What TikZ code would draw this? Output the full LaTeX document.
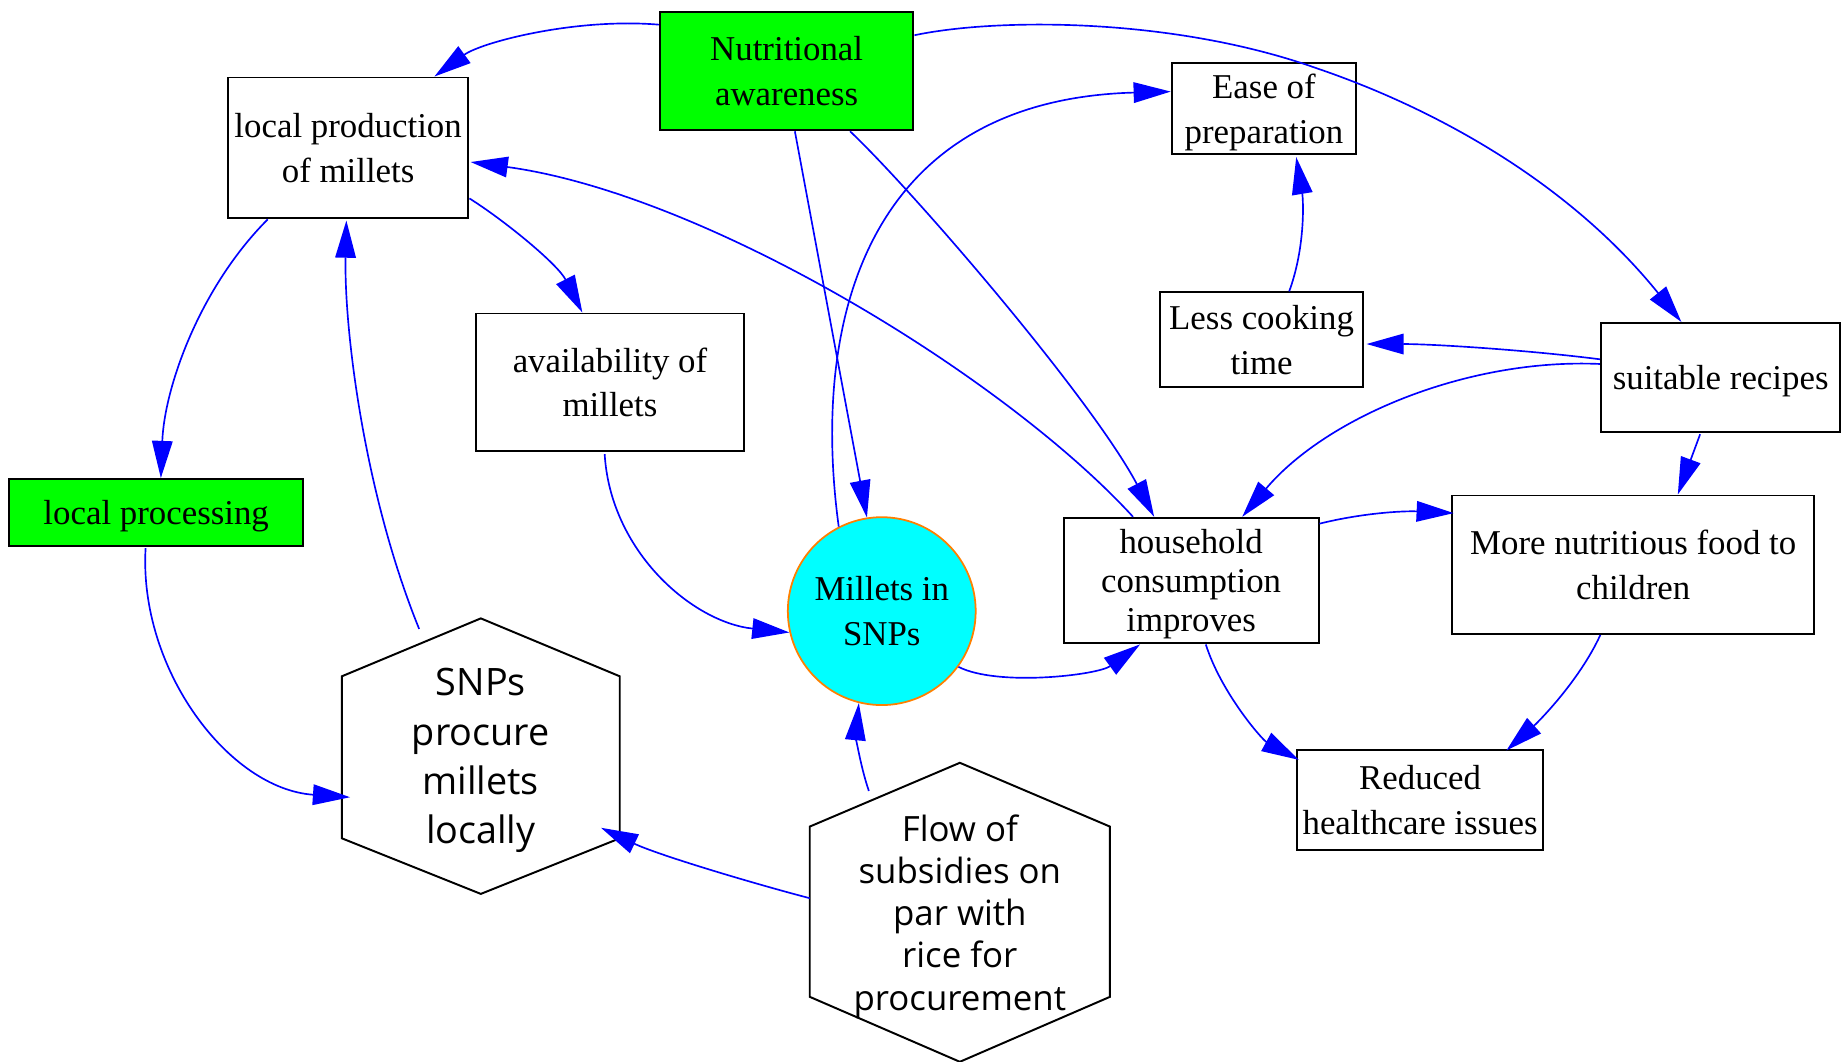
\documentclass[tikz,border=0pt]{standalone}
\usepackage{fontspec}
\setmainfont{Liberation Serif}
\newfontfamily\hexfont{Open Sans}
\usetikzlibrary{arrows.meta,calc}
\definecolor{edgeblue}{RGB}{0,0,255}
\definecolor{boxgreen}{RGB}{0,255,0}
\definecolor{circcyan}{RGB}{0,255,255}
\definecolor{circorange}{RGB}{255,128,0}
\begin{document}
\begin{tikzpicture}[x=0.6pt,y=-0.6pt,
  box/.style={draw=black, line width=1pt, rectangle, inner sep=0pt, align=center, text depth=-1.8pt, font=\fontsize{17.8}{22.8}\selectfont},
  greenbox/.style={box, fill=boxgreen},
  hexnode/.style={rectangle, inner sep=0pt, align=center},
  hexline/.style={draw=black, line width=1pt},
  conn/.style={draw=edgeblue, line width=0.85pt, -{Triangle[length=19pt,width=10.5pt]}},
]
\useasboundingbox (0,0) rectangle (1568,904);

% nodes
\node[greenbox, minimum width=129.6pt, minimum height=60.6pt] (na) at (670,60.5) {Nutritional\\awareness};
\node[box, minimum width=123pt, minimum height=72pt] (lp) at (296.5,126) {local production\\of millets};
\node[box, minimum width=94.2pt, minimum height=46.2pt] (ep) at (1076.5,92.5) {Ease of\\preparation};
\node[box, minimum width=103.8pt, minimum height=48.6pt] (lc) at (1074.5,289.5) {Less cooking\\time};
\node[box, minimum width=122.4pt, minimum height=55.8pt] (sr) at (1465.5,321.5) {suitable recipes};
\node[box, minimum width=137.4pt, minimum height=70.2pt] (av) at (519.5,325.5) {availability of\\millets};
\node[greenbox, minimum width=150pt, minimum height=34.2pt] (lpr) at (133,436.5) {local processing};
\node[circle, draw=circorange, fill=circcyan, line width=0.9pt, minimum size=96pt, inner sep=0pt, align=center, text depth=-1.8pt, font=\fontsize{17.8}{22.8}\selectfont] (ms) at (751,520.5) {Millets in\\SNPs};
\node[box, minimum width=130.2pt, minimum height=64.2pt, font=\fontsize{17.8}{20}\selectfont] (hc) at (1014.5,494.5) {household\\consumption\\improves};
\node[box, minimum width=184.8pt, minimum height=70.8pt] (mn) at (1391,481) {More nutritious food to\\children};
\node[box, minimum width=125.4pt, minimum height=51pt] (rh) at (1209.5,681.5) {Reduced\\healthcare issues};
\node[hexnode, minimum width=141.6pt, minimum height=140.4pt, text depth=0pt, font=\hexfont\fontsize{19.3}{25.2}\selectfont] (hexl) at (409.5,644) {SNPs\\procure\\millets\\locally};
\node[hexnode, minimum width=153pt, minimum height=152.4pt, text depth=-1.7pt, font=\hexfont\fontsize{17.8}{21.6}\selectfont] (hexr) at (817.5,777) {Flow of\\subsidies on\\par with\\rice for\\procurement};

% hexagon outlines
\draw[hexline] (hexl.north) -- ($(hexl.east)+(0,-68)$) -- ($(hexl.east)+(0,70)$) -- (hexl.south) -- ($(hexl.west)+(0,70)$) -- ($(hexl.west)+(0,-68)$) -- cycle;
\draw[hexline] (hexr.north) -- ($(hexr.east)+(0,-73)$) -- ($(hexr.east)+(0,72)$) -- (hexr.south) -- ($(hexr.west)+(0,72)$) -- ($(hexr.west)+(0,-73)$) -- cycle;

% connectors
\draw[conn] ($(na.west)+(0,-39.5)$) .. controls (490,15) and (410,36) .. ($(lp.north)+(73.5,0)$);
\draw[conn] ($(na.east)+(0,-30.5)$) .. controls (850,15) and (1000,15) .. (1121,58) .. controls (1230,95) and (1340,160) .. ($(sr.north)+(-33.5,0)$);
\draw[conn] ($(na.south)+(7,0)$) -- (ms.99);
\draw[conn] ($(na.south)+(54,0)$) .. controls (780,165) and (930,340) .. ($(hc.north)+(-31.5,0)$);
\draw[conn] (ms.117) .. controls (690,270) and (740,85) .. ($(ep.west)+(0,-14.5)$);
\draw[conn] ($(hc.north)+(-49.5,0)$) .. controls (855,320) and (600,165) .. ($(lp.east)+(1,12)$);
\draw[conn] ($(lp.east)+(0,43)$) .. controls (430,188) and (475,225) .. ($(av.north)+(-23.5,0)$);
\draw[conn] ($(lp.south)+(-68.5,0)$) .. controls (170,245) and (140,330) .. ($(lpr.north)+(4,0)$);
\draw[conn] ($(hexl.north)+(-52.5,9)$) .. controls (310,420) and (293,280) .. ($(lp.south)+(-1.5,1)$);
\draw[conn] ($(lpr.south)+(-9,1)$) .. controls (118,570) and (195,672) .. ($(hexl.west)+(7,35)$);
\draw[conn] ($(av.south)+(-4.5,2)$) .. controls (520,470) and (590,530) .. (ms.193);
\draw[conn] ($(hexr.north)+(-77.5,24)$) .. controls (732,650) and (729,625) .. (ms.256);
\draw[conn] ($(hexr.west)+(0,-12)$) .. controls (640,752) and (560,728) .. ($(hexl.east)+(-16,61)$);
\draw[conn] (ms.-36) .. controls (850,585) and (935,575) .. ($(hc.south)+(-43.5,0)$);
\draw[conn] ($(lc.north)+(23.5,0)$) .. controls (1112,210) and (1110,170) .. ($(ep.south)+(27.5,2)$);
\draw[conn] ($(sr.west)+(0,-15.5)$) .. controls (1300,298) and (1220,293) .. ($(lc.east)+(2,3.5)$);
\draw[conn] ($(sr.west)+(0,-11.5)$) .. controls (1250,305) and (1130,355) .. ($(hc.north)+(43.5,0)$);
\draw[conn] ($(sr.south)+(-17.5,1)$) -- ($(mn.north)+(38,0)$);
\draw[conn] ($(hc.east)+(0,-48.5)$) .. controls (1160,437) and (1195,435) .. ($(mn.west)+(2,-44)$);
\draw[conn] ($(hc.south)+(12.5,0)$) .. controls (1040,590) and (1075,630) .. ($(rh.north west)+(2,9)$);
\draw[conn] ($(mn.south)+(-28,0)$) .. controls (1345,580) and (1310,615) .. ($(rh.north)+(73.5,1)$);
\end{tikzpicture}
\end{document}
